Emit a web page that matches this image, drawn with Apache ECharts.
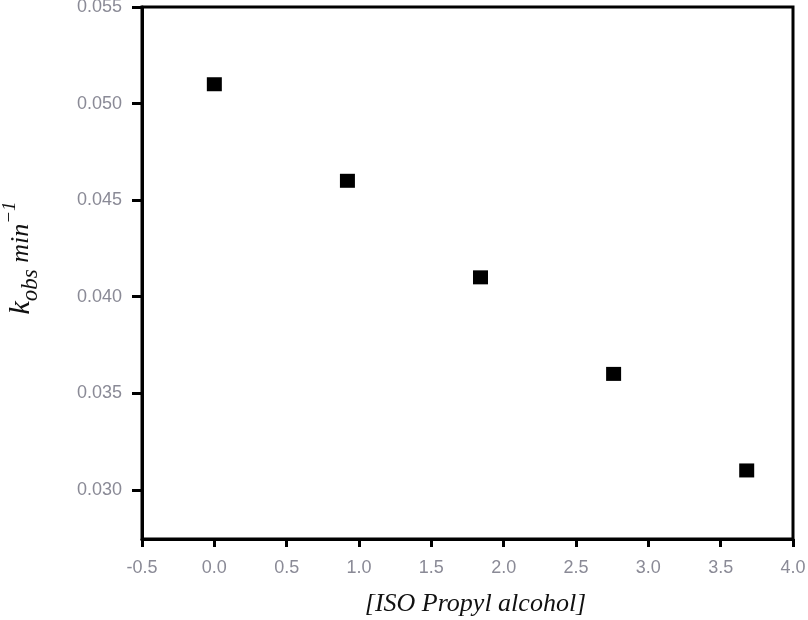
<!DOCTYPE html>
<html>
<head>
<meta charset="utf-8">
<script src="https://cdn.jsdelivr.net/npm/echarts@6/dist/echarts.min.js"></script>
<style>html,body{margin:0;padding:0;background:#fff}#c{width:808px;height:620px}</style>
</head>
<body>
<div id="c"></div>
<script>
var alcoholConc = [0, 0.92, 1.84, 2.76, 3.68];
var kObs = [0.051, 0.046, 0.041, 0.036, 0.031];
var yTickValues = [0.030, 0.035, 0.040, 0.045, 0.050, 0.055];
var xTickValues = [-0.5, 0.0, 0.5, 1.0, 1.5, 2.0, 2.5, 3.0, 3.5, 4.0];

var points = alcoholConc.map(function (x, i) { return [x, kObs[i]]; });
var labelColor = '#8a8a96';
var chart = echarts.init(document.getElementById('c'));
chart.setOption({
  animation: false,
  backgroundColor: '#fff',
  grid: { left: 142, right: 15, top: 7, bottom: 81, containLabel: false, outerBoundsMode: 'none',
    show: true, borderColor: '#000', borderWidth: 3, backgroundColor: 'transparent' },
  xAxis: {
    type: 'value', min: -0.5, max: 4.0, interval: 0.5,
    splitLine: { show: false },
    axisLine: { show: true, onZero: false, lineStyle: { color: '#000', width: 3 } },
    axisTick: { show: true, inside: false, length: 8, lineStyle: { color: '#000', width: 3 } },
    axisLabel: { color: labelColor, fontFamily: 'Liberation Sans', fontSize: 18, margin: 20,
      formatter: function (v) { return v.toFixed(1); } },
    name: '[ISO Propyl alcohol]', nameLocation: 'middle', nameGap: 52,
    nameTextStyle: { fontFamily: 'Liberation Serif', fontStyle: 'italic', fontSize: 26, color: '#111', padding: [0, 0, 0, 16] }
  },
  yAxis: {
    type: 'value', min: 0.02745, max: 0.055,
    splitLine: { show: false },
    axisLine: { show: true, onZero: false, lineStyle: { color: '#000', width: 3 } },
    axisTick: { show: true, inside: false, length: 10, lineStyle: { color: '#000', width: 3 }, customValues: yTickValues },
    axisLabel: { color: labelColor, fontFamily: 'Liberation Sans', fontSize: 18, margin: 20,
      customValues: yTickValues, formatter: function (v) { return v.toFixed(3); } },
    name: '{k|k}{sub|obs}{min| min}{sup|−1}', nameLocation: 'middle', nameRotate: 90, nameGap: 100,
    nameTextStyle: {
      color: '#111', padding: [0, 0, 0, 30],
      rich: {
        k: { fontFamily: 'Liberation Serif', fontStyle: 'italic', fontSize: 30, lineHeight: 42, verticalAlign: 'middle' },
        sub: { fontFamily: 'Liberation Serif', fontStyle: 'italic', fontSize: 23, verticalAlign: 'bottom' },
        min: { fontFamily: 'Liberation Serif', fontStyle: 'italic', fontSize: 26, verticalAlign: 'middle' },
        sup: { fontFamily: 'Liberation Serif', fontStyle: 'italic', fontSize: 19, verticalAlign: 'top' }
      }
    }
  },
  series: [{
    type: 'scatter',
    data: points,
    symbol: 'rect',
    symbolSize: [15, 14],
    itemStyle: { color: '#000', opacity: 1 }
  }]
});
</script>
</body>
</html>
